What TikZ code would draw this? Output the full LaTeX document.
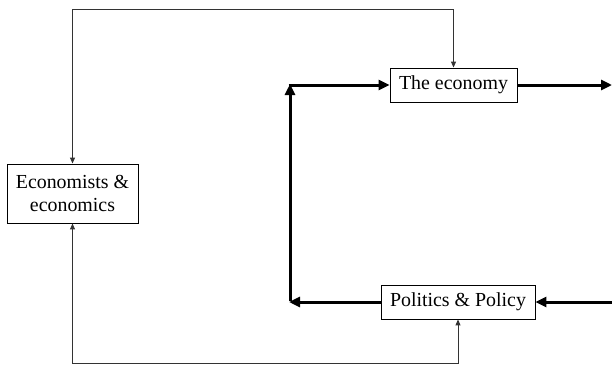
\documentclass[tikz,border=0pt]{standalone}
\usepackage{fontspec}
\setmainfont{Liberation Serif}
\usetikzlibrary{arrows.meta}
\begin{document}
\begin{tikzpicture}[x=1pt,y=-1pt,
  box/.style={draw, line width=0.9pt, inner sep=0pt, align=center,
    font=\fontsize{19.9}{23.7}\selectfont},
  thick line/.style={line width=3pt, -{Triangle[length=11pt,width=10pt]}},
  thin line/.style={line width=1pt, draw=black!80, {Triangle[length=6pt,width=5pt]}-{Triangle[length=6pt,width=5pt]}}]
\useasboundingbox (0,0) rectangle (612,364);
\node[box, minimum width=127pt, minimum height=34pt] (eco) at (453.5,85) {The economy};
\node[box, minimum width=154pt, minimum height=34pt] (pol) at (458,302) {Politics \& Policy};
\node[box, minimum width=131pt, minimum height=59pt] (econs) at (72.5,193.5) {Economists \&\\economics};
\coordinate (bl) at (290,302);
\coordinate (tl) at (290,85);
\coordinate (er) at (612,85);
\coordinate (pr) at (612,302);
\coordinate (tleft) at (72.5,9);
\coordinate (tright) at (453.5,9);
\coordinate (bleft) at (72.5,363);
\coordinate (bright) at (458,363);
% thick loop
\draw[thick line] (pol.west) -- ([xshift=-1pt]bl);
\draw[thick line] ([yshift=1.5pt]bl) -- ([yshift=1pt]tl);
\draw[thick line] ([xshift=-1.5pt]tl) -- (eco.west);
\draw[thick line] (eco.east) -- (er);
\draw[thick line] (pr) -- (pol.east);
% thin connectors
\draw[thin line] (econs.north) -- (tleft) -- (tright) -- (eco.north);
\draw[thin line] (econs.south) -- (bleft) -- (bright) -- (pol.south);
\end{tikzpicture}
\end{document}
